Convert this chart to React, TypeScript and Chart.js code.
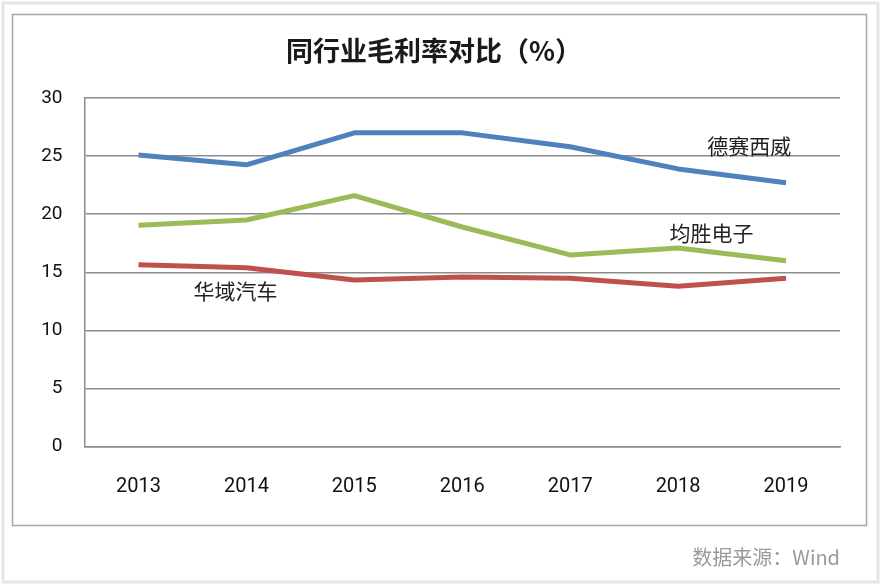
import React, { useEffect, useRef } from 'react';
import { Chart, ChartConfiguration, Plugin } from 'chart.js/auto';

const years = ['2013', '2014', '2015', '2016', '2017', '2018', '2019'];
const desay = [25.1, 24.25, 27.0, 27.0, 25.8, 23.9, 22.7];
const joyson = [19.05, 19.5, 21.6, 18.9, 16.5, 17.1, 16.0];
const huayu = [15.65, 15.4, 14.35, 14.6, 14.5, 13.8, 14.5];
const seriesNames = ['德赛西威', '均胜电子', '华域汽车'];
// where each series name sits, in category index / value units
const nameAnchors = [
  { idx: 5.66, val: 25.9 },
  { idx: 5.31, val: 18.4 },
  { idx: 0.9, val: 13.4 },
];

const TITLE = '同行业毛利率对比（%）';
const SOURCE = '数据来源：Wind';
const CJK = '"Noto Sans CJK SC", "Noto Sans", sans-serif';
const NUM = 'Roboto, "Liberation Sans", sans-serif';

const decorPlugin: Plugin<'line'> = {
  id: 'decor',
  beforeDraw(chart) {
    const { ctx, width, height } = chart;
    ctx.save();
    ctx.fillStyle = '#ffffff';
    ctx.fillRect(0, 0, width, height);
    ctx.strokeStyle = '#e6e6e6';
    ctx.lineWidth = 3;
    ctx.strokeRect(3, 3, width - 6, height - 6);
    ctx.strokeStyle = '#a6a6a6';
    ctx.lineWidth = 1.5;
    ctx.strokeRect(12.5, 14.5, 854, 511);
    ctx.fillStyle = '#1a1a1a';
    ctx.font = `bold 27px ${CJK}`;
    ctx.textAlign = 'center';
    ctx.textBaseline = 'middle';
    ctx.fillText(TITLE, 434, 51);
    ctx.fillStyle = '#9a9a9a';
    ctx.font = `20px ${CJK}`;
    ctx.textAlign = 'right';
    ctx.fillText(SOURCE, 840, 557);
    ctx.restore();
  },
  afterDatasetsDraw(chart) {
    const { ctx } = chart;
    const xs = chart.scales.x;
    const ys = chart.scales.y;
    ctx.save();
    ctx.fillStyle = '#222222';
    ctx.font = `21px ${CJK}`;
    ctx.textAlign = 'center';
    ctx.textBaseline = 'middle';
    seriesNames.forEach((name, i) => {
      const a = nameAnchors[i];
      const x0 = xs.getPixelForValue(Math.floor(a.idx));
      const x1 = xs.getPixelForValue(Math.floor(a.idx) + 1);
      const x = x0 + (x1 - x0) * (a.idx - Math.floor(a.idx));
      ctx.fillText(name, x, ys.getPixelForValue(a.val));
    });
    ctx.restore();
  },
};

const LineChart: React.FC = () => {
  const ref = useRef<HTMLCanvasElement | null>(null);

  useEffect(() => {
    if (!ref.current) return;
    const ctx = ref.current.getContext('2d');
    if (!ctx) return;

    const line = (label: string, data: number[], color: string) => ({
      label,
      data,
      borderColor: color,
      backgroundColor: color,
      borderWidth: 5,
      pointRadius: 0,
      tension: 0,
      borderJoinStyle: 'round' as const,
    });

    const config: ChartConfiguration<'line'> = {
      type: 'line',
      data: {
        labels: years,
        datasets: [
          line(seriesNames[0], desay, '#4f81bd'),
          line(seriesNames[1], joyson, '#9bbb59'),
          line(seriesNames[2], huayu, '#c0504d'),
        ],
      },
      options: {
        responsive: false,
        animation: false,
        devicePixelRatio: 1,
        layout: { padding: { top: 98, right: 41, bottom: 0, left: 0 } },
        plugins: {
          legend: { display: false },
          title: { display: false },
          tooltip: { enabled: false },
        },
        scales: {
          x: {
            offset: true,
            grid: { display: false, drawTicks: false },
            border: { display: true, color: '#8c8c8c', width: 1.5 },
            ticks: { color: '#111', font: { family: NUM, size: 20 }, padding: 28 },
            afterFit: (s) => {
              s.height = 138.3;
            },
          },
          y: {
            min: 0,
            max: 30,
            ticks: { stepSize: 5, color: '#111', font: { family: NUM, size: 19 }, padding: 22 },
            grid: { color: '#8c8c8c', lineWidth: 1.5, drawTicks: false },
            border: { display: true, color: '#8c8c8c', width: 1.5 },
            afterFit: (s) => {
              s.width = 84.5;
            },
          },
        },
      },
      plugins: [decorPlugin],
    };

    const chart = new Chart(ctx, config);
    return () => chart.destroy();
  }, []);

  return <canvas ref={ref} width={881} height={585} style={{ display: 'block' }} />;
};

export default function App() {
  useEffect(() => {
    document.body.style.margin = '0';
  }, []);
  return (
    <div style={{ width: 881, height: 585 }}>
      <LineChart />
    </div>
  );
}
